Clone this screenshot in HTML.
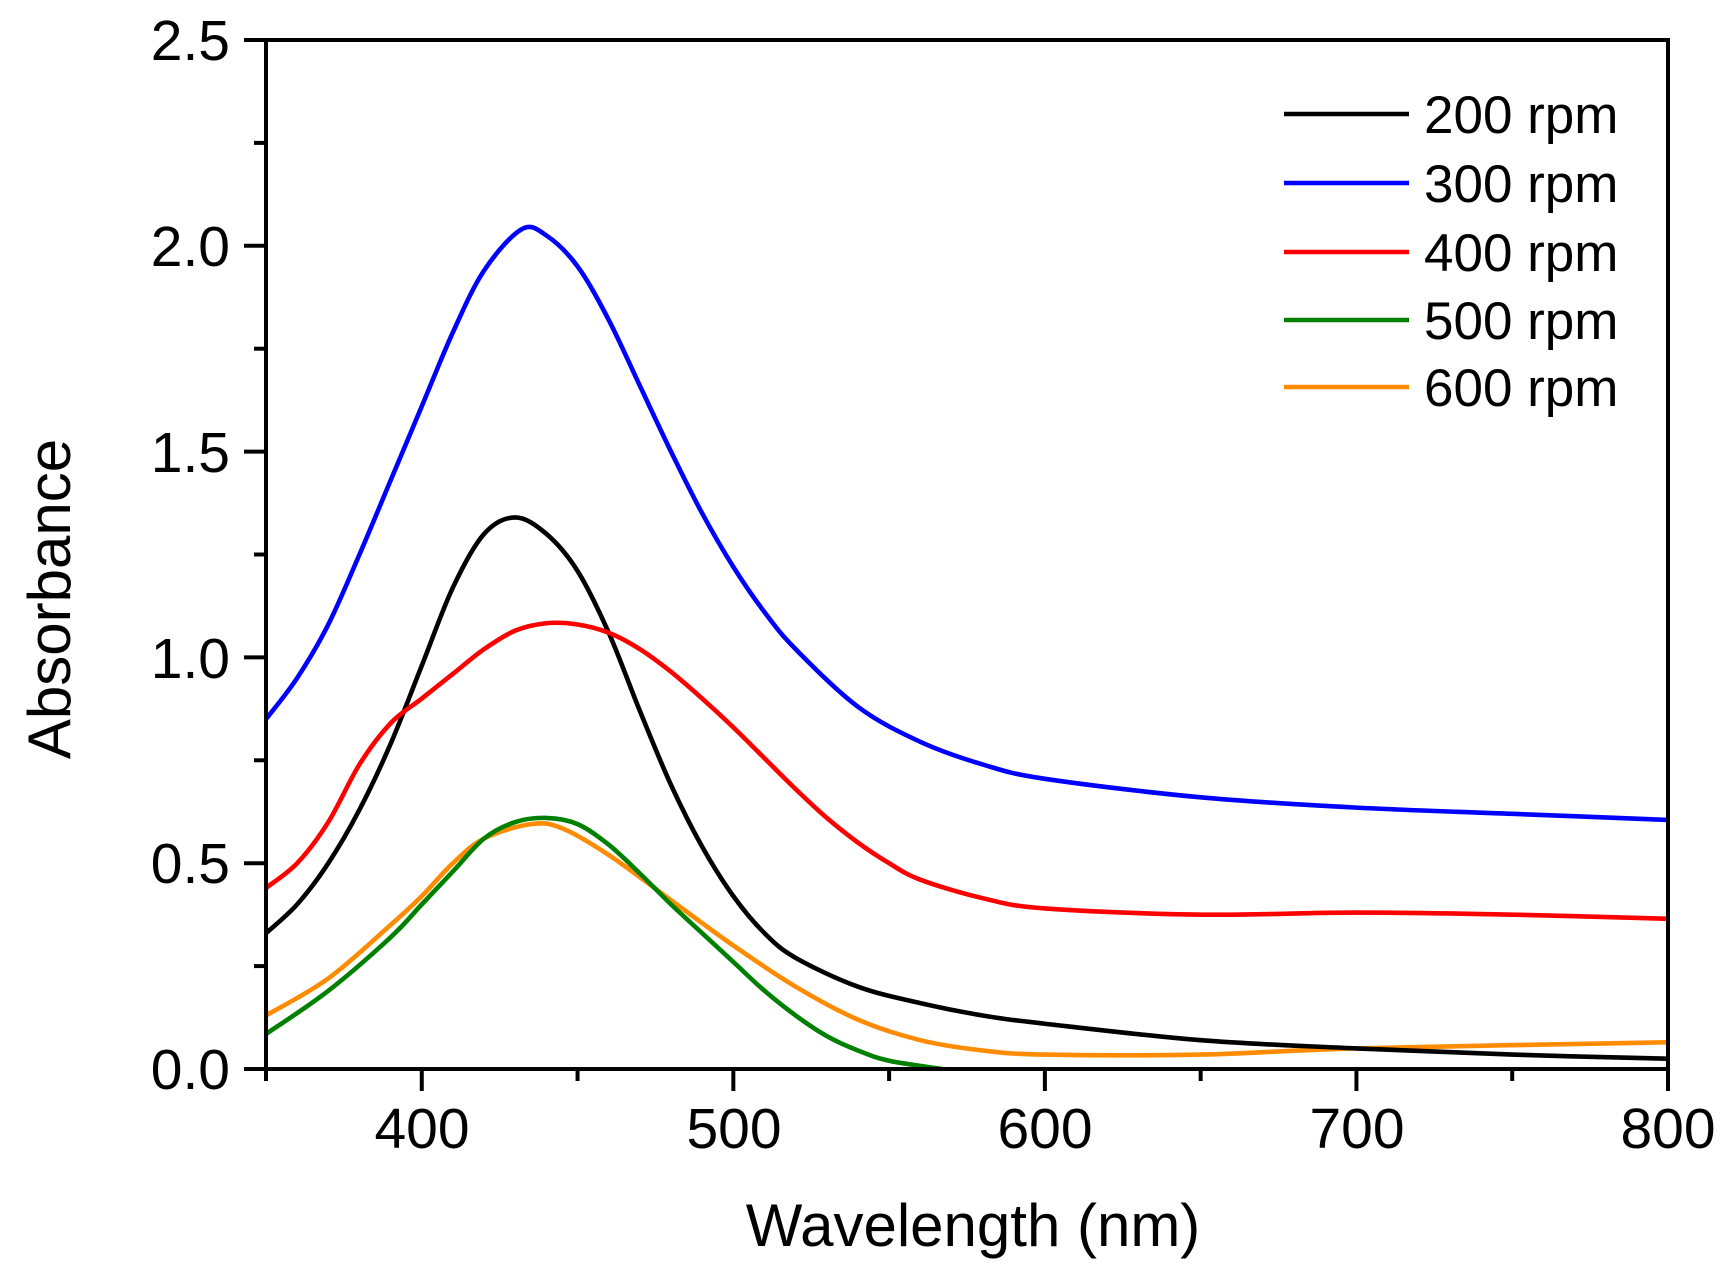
<!DOCTYPE html>
<html><head><meta charset="utf-8"><style>
html,body{margin:0;padding:0;background:#fff}
svg{display:block}
text{font-family:"Liberation Sans",Arial,sans-serif;fill:#000}
</style></head><body>
<svg id="s" width="1731" height="1272" viewBox="0 0 1731 1272" xmlns="http://www.w3.org/2000/svg">
<g id="curves" fill="none" stroke-width="4.6" stroke-linejoin="round"></g>
<rect x="266" y="40" width="1402" height="1029" fill="none" stroke="#000" stroke-width="4"/>
<g id="ticks" stroke="#000" stroke-width="4"></g>
<g font-size="57">
<text x="230" y="60" text-anchor="end">2.5</text>
<text x="230" y="266" text-anchor="end">2.0</text>
<text x="230" y="472" text-anchor="end">1.5</text>
<text x="230" y="678" text-anchor="end">1.0</text>
<text x="230" y="883" text-anchor="end">0.5</text>
<text x="230" y="1089" text-anchor="end">0.0</text>
<text x="422" y="1148" text-anchor="middle">400</text>
<text x="734" y="1148" text-anchor="middle">500</text>
<text x="1045" y="1148" text-anchor="middle">600</text>
<text x="1357" y="1148" text-anchor="middle">700</text>
<text x="1668" y="1148" text-anchor="middle">800</text>
</g>
<text x="973" y="1246" font-size="60" text-anchor="middle">Wavelength (nm)</text>
<text transform="translate(70,599) rotate(-90)" font-size="60" text-anchor="middle">Absorbance</text>
<g stroke-width="4.6">
<line x1="1284" y1="114" x2="1409" y2="114" stroke="#000"/>
<line x1="1284" y1="183" x2="1409" y2="183" stroke="#0000ff"/>
<line x1="1284" y1="252" x2="1409" y2="252" stroke="#ff0000"/>
<line x1="1284" y1="320" x2="1409" y2="320" stroke="#008000"/>
<line x1="1284" y1="387" x2="1409" y2="387" stroke="#ff8c00"/>
</g>
<g font-size="53">
<text x="1424" y="133">200 rpm</text>
<text x="1424" y="202">300 rpm</text>
<text x="1424" y="271">400 rpm</text>
<text x="1424" y="339">500 rpm</text>
<text x="1424" y="406">600 rpm</text>
</g>
</svg>
<script>
var L=266,R=1668,T=40,B=1069;
function X(n){return L+(n-350)*(R-L)/450}
function Y(a){return B-a*(B-T)/2.5}
var t=document.getElementById('ticks'),h='';
for(var a=0;a<=2.5001;a+=0.25){var maj=Math.abs(a*2-Math.round(a*2))<1e-6;h+='<line x1="'+(L-(maj?22:12))+'" x2="'+L+'" y1="'+Y(a)+'" y2="'+Y(a)+'"/>';}
for(var n=350;n<=800;n+=50){var maj=n%100==0;h+='<line y1="'+B+'" y2="'+(B+(maj?22:12))+'" x1="'+X(n)+'" x2="'+X(n)+'"/>';}
t.innerHTML=h;
var D={
"#ff8c00":[[350,.13],[370,.22],[390,.35],[400,.42],[410,.5],[420,.56],[435,.595],[445,.585],[460,.52],[480,.41],[500,.3],[520,.2],[540,.12],[560,.07],[580,.045],[600,.035],[650,.035],[700,.05],[800,.065]],
"#008000":[[350,.085],[370,.19],[390,.32],[400,.4],[410,.48],[420,.56],[430,.6],[440,.61],[450,.595],[460,.545],[470,.475],[480,.4],[490,.33],[500,.26],[510,.19],[520,.13],[530,.08],[540,.045],[550,.02],[567,0]],
"#000000":[[350,.33],[360,.4],[370,.5],[380,.63],[390,.79],[400,.98],[410,1.17],[420,1.3],[430,1.34],[440,1.3],[450,1.21],[460,1.06],[470,.87],[480,.69],[490,.54],[500,.42],[510,.33],[520,.27],[540,.2],[560,.16],[580,.13],[600,.11],[650,.07],[700,.05],[750,.035],[800,.025]],
"#ff0000":[[350,.44],[360,.5],[370,.6],[380,.74],[390,.84],[400,.9],[410,.96],[420,1.02],[430,1.065],[440,1.083],[450,1.08],[460,1.06],[470,1.02],[480,.965],[490,.9],[500,.83],[510,.755],[520,.68],[530,.61],[540,.55],[550,.5],[560,.46],[580,.415],[600,.39],[650,.375],[700,.38],[750,.375],[800,.365]],
"#0000ff":[[350,.85],[360,.95],[370,1.08],[380,1.25],[390,1.43],[400,1.61],[410,1.79],[420,1.94],[432,2.04],[440,2.025],[450,1.95],[460,1.82],[470,1.66],[480,1.5],[490,1.35],[500,1.22],[510,1.11],[520,1.02],[540,.88],[560,.795],[580,.74],[600,.705],[650,.66],[700,.635],[750,.62],[800,.605]]};
var g=document.getElementById('curves'),s='';
for(var c in D){var p=D[c].map(function(q){return[X(q[0]),Y(q[1])]});
var d='M'+p[0][0]+','+p[0][1];
for(var i=0;i<p.length-1;i++){var p0=p[i-1]||p[i],p1=p[i],p2=p[i+1],p3=p[i+2]||p2;
d+='C'+(p1[0]+(p2[0]-p0[0])/6)+','+(p1[1]+(p2[1]-p0[1])/6)+' '+(p2[0]-(p3[0]-p1[0])/6)+','+(p2[1]-(p3[1]-p1[1])/6)+' '+p2[0]+','+p2[1];}
s+='<path d="'+d+'" stroke="'+c+'"/>';}
g.innerHTML=s;
</script>
</body></html>
